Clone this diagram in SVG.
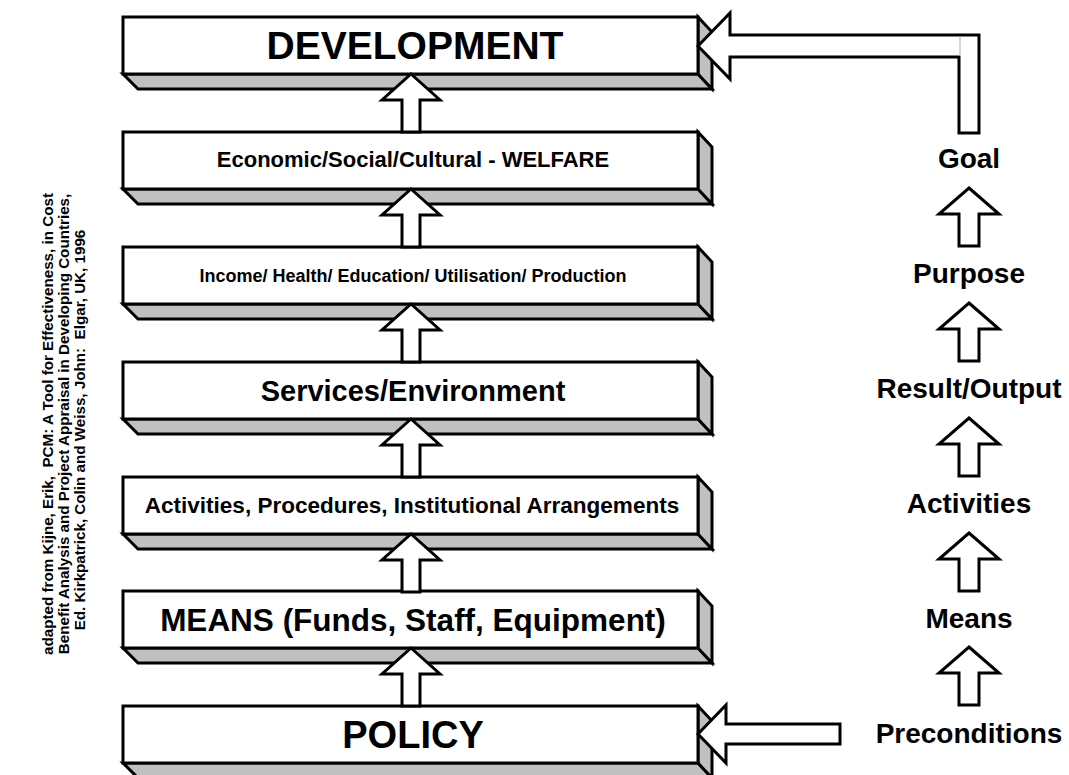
<svg xmlns="http://www.w3.org/2000/svg" width="1069" height="775" viewBox="0 0 1069 775">
  <style>
    .face { fill: #ffffff; stroke: #000000; stroke-width: 3; }
    .shade { fill: #c0c0c0; stroke: #000000; stroke-width: 3; stroke-linejoin: miter; }
    .arrow { fill: #ffffff; stroke: #000000; stroke-width: 3; stroke-linejoin: miter; }
    .lbl { font-family: "Liberation Sans", Arial, sans-serif; font-weight: bold; fill: #000000; text-anchor: middle; }
    .src { font-family: "Liberation Sans", Arial, sans-serif; font-weight: bold; font-size: 15.2px; fill: #000000; text-anchor: middle; white-space: pre; }
  </style>
  <defs>
    <!-- extruded box: front face 575x57, depth offset (14,15) -->
    <g id="slab">
      <polygon class="shade" points="0,57 575,57 589,72 15,72"/>
      <polygon class="shade" points="575,0 589,15 589,72 575,57"/>
      <rect class="face" x="0" y="0" width="575" height="57"/>
    </g>
    <!-- block arrows pointing up, tip at origin -->
    <path id="upLeft" d="M0,0 L29,26 L9,26 L9,58 L-9,58 L-9,26 L-29,26 Z"/>
    <path id="upRight" d="M0,0 L30,26 L10,26 L10,58 L-10,58 L-10,26 L-30,26 Z"/>
  </defs>

  <rect width="1069" height="775" fill="#ffffff"/>

  <!-- citation, rotated -->
  <g id="citation" transform="translate(0,424) rotate(-90)">
    <text class="src" x="0" y="53" xml:space="preserve">adapted from Kijne, Erik,  PCM: A Tool for Effectiveness, in Cost</text>
    <text class="src" x="0" y="69">Benefit Analysis and Project Appraisal in Developing Countries,</text>
    <text class="src" x="-6" y="85" xml:space="preserve">Ed. Kirkpatrick, Colin and Weiss, John:  Elgar, UK, 1996</text>
  </g>

  <g id="development" transform="translate(123,17)">
    <use href="#slab"/>
    <text class="lbl" x="292" y="42" font-size="39">DEVELOPMENT</text>
  </g>
  <g id="welfare" transform="translate(123,132)">
    <use href="#slab"/>
    <text class="lbl" x="290" y="35" font-size="22">Economic/Social/Cultural - WELFARE</text>
  </g>
  <g id="income" transform="translate(123,247)">
    <use href="#slab"/>
    <text class="lbl" x="290" y="35" font-size="18">Income/ Health/ Education/ Utilisation/ Production</text>
  </g>
  <g id="services" transform="translate(123,362)">
    <use href="#slab"/>
    <text class="lbl" x="290" y="39" font-size="29">Services/Environment</text>
  </g>
  <g id="activities" transform="translate(123,477)">
    <use href="#slab"/>
    <text class="lbl" x="289" y="36" font-size="22.5">Activities, Procedures, Institutional Arrangements</text>
  </g>
  <g id="means" transform="translate(123,591)">
    <use href="#slab"/>
    <text class="lbl" x="290" y="40" font-size="31.5">MEANS (Funds, Staff, Equipment)</text>
  </g>
  <g id="policy" transform="translate(123,706)">
    <use href="#slab"/>
    <text class="lbl" x="290" y="42" font-size="38">POLICY</text>
  </g>

  <!-- logical framework levels -->
  <g id="goal"><text class="lbl" x="969" y="168" font-size="28">Goal</text></g>
  <g id="purpose"><text class="lbl" x="969" y="283" font-size="28">Purpose</text></g>
  <g id="result"><text class="lbl" x="969" y="398" font-size="28">Result/Output</text></g>
  <g id="activities-level"><text class="lbl" x="969" y="513" font-size="28">Activities</text></g>
  <g id="means-level"><text class="lbl" x="969" y="628" font-size="28">Means</text></g>
  <g id="preconditions"><text class="lbl" x="969" y="743" font-size="28">Preconditions</text></g>

  <g id="connectors">
    <!-- upward arrows between boxes -->
    <use href="#upLeft" class="arrow" x="411" y="74"/>
    <use href="#upLeft" class="arrow" x="411" y="189"/>
    <use href="#upLeft" class="arrow" x="411" y="304"/>
    <use href="#upLeft" class="arrow" x="411" y="419"/>
    <use href="#upLeft" class="arrow" x="411" y="534"/>
    <use href="#upLeft" class="arrow" x="411" y="648"/>
    <!-- upward arrows between levels -->
    <use href="#upRight" class="arrow" x="969" y="188"/>
    <use href="#upRight" class="arrow" x="969" y="303"/>
    <use href="#upRight" class="arrow" x="969" y="418"/>
    <use href="#upRight" class="arrow" x="969" y="533"/>
    <use href="#upRight" class="arrow" x="969" y="647"/>
    <!-- goal feeding development -->
    <polygon class="arrow" points="698,46 730,13 730,35 979,35 979,133 959,133 959,57 730,57 730,79"/>
    <line x1="960" y1="36.5" x2="960" y2="55.5" stroke="#c8c8c8" stroke-width="1.5"/>
    <!-- preconditions feeding policy -->
    <polygon class="arrow" points="698,734 726,705 726,724 840,724 840,744 726,744 726,763"/>
  </g>
</svg>
